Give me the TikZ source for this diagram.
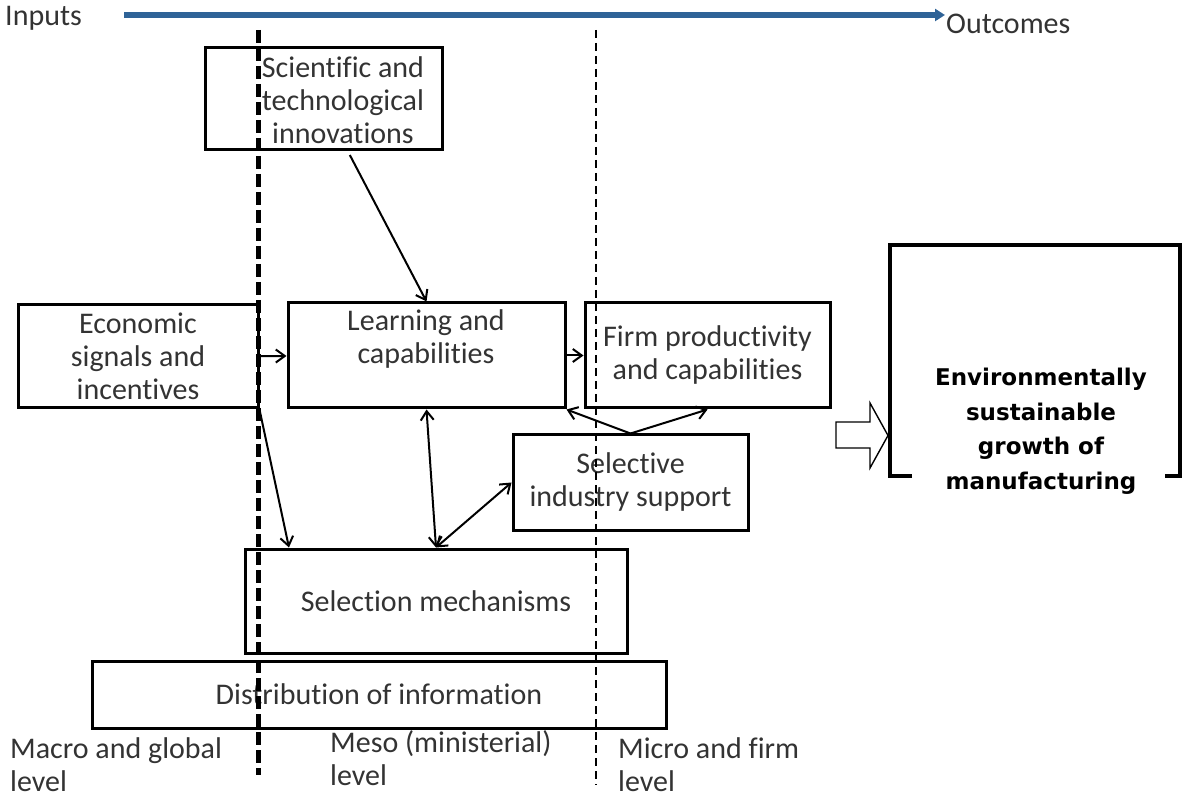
\documentclass[tikz,border=0pt]{standalone}
\usepackage{fontspec}
\setmainfont{Carlito}[Ligatures={NoCommon}]
\newfontfamily\headfont{DejaVu Sans}
\usetikzlibrary{arrows.meta, positioning}

\definecolor{axisblue}{RGB}{47,99,151}

\begin{document}
\begin{tikzpicture}[
    x=1pt, y=-1pt,
    box/.style={draw, line width=3pt, inner sep=0pt, align=center,
                font=\fontsize{30}{33}\selectfont, text=black!80},
    txt/.style={align=center, inner sep=0pt,
                font=\fontsize{30}{33}\selectfont, text=black!80},
    lvl/.style={align=left, anchor=north west, inner sep=0pt,
                font=\fontsize{30}{33}\selectfont, text=black!80},
    link/.style={line width=2pt, -{Straight Barb[length=9pt, width=13pt]}},
    twoway/.style={line width=2pt,
                   {Straight Barb[length=9pt, width=13pt]}-{Straight Barb[length=9pt, width=13pt]}},
    >=Stealth
  ]
  \useasboundingbox (0,0) rectangle (1192,799);

  % Axis
  \node[txt, anchor=base west] (inputs) at (5,26) {Inputs};
  \node[txt, anchor=base west] (outcomes) at (946,34) {Outcomes};
  \draw[axisblue, line width=5.5pt, -{Triangle[length=10pt, width=12pt]}]
    (inputs.east |- 0,15) ++(42,0) coordinate (axisstart) -- (945,15) coordinate (axisend);

  % Boxes
  \node[box, minimum width=237, minimum height=102] (sci) at (323.5,99) {};
  \node[txt] (scitext) at (343,100) {Scientific and\\technological\\innovations};
  \node[box, minimum width=240, minimum height=103] (econ) at (138,356.5)
    {Economic\\signals and\\incentives};
  \node[box, minimum width=277, minimum height=105] (learn) at (426.5,355.5) {};
  \node[txt] (learntext) at (426,339) {Learning and\\capabilities};
  \node[box, minimum width=245, minimum height=105] (firm) at (707.5,355.5)
    {Firm productivity\\and capabilities};
  \node[box, minimum width=235, minimum height=95] (sel) at (630.5,482.5)
    {Selective\\industry support};
  \node[box, minimum width=382, minimum height=104] (mech) at (436,601)
    {Selection mechanisms};
  \node[box, minimum width=574, minimum height=67] (dist) at (379,694.5)
    {Distribution of information};

  % Outcome
  \node[inner sep=0pt, align=center, font=\headfont\bfseries\fontsize{23}{34.5}\selectfont]
    (goal) at (1041,431) {Environmentally\\sustainable\\growth of\\manufacturing};
  \draw[line width=3.4pt] (912,476) -- (890,476) -- (890,245) -- (1180,245) -- (1180,476) -- (1165,476);
  \draw[line width=1.4pt, fill=white, line join=miter]
    (836,422) -- (870,422) -- (870,403) -- (888,435.5) -- (870,468) -- (870,448) -- (836,448) -- cycle;

  % Connectors
  \draw[link, shorten <=4pt] (sci.-65) -- (learn.north);
  \draw[link] (econ) -- (learn);
  \draw[link] (learn) -- (firm);
  \draw[link] (econ.south east) -- (mech.160);
  \draw[twoway] (mech.north) -- (learn.south);
  \draw[twoway] (mech.north) -- (sel.west);
  \draw[link] (sel.north) -- (learn.south east);
  \draw[link] (sel.north) -- (firm.south);

  % Level boundaries
  \coordinate (macrotop) at (258,30);
  \coordinate (macrobot) at (258,775);
  \coordinate (microtop) at (596,30);
  \coordinate (microbot) at (596,785);
  \draw[line width=5pt, dash pattern=on 13pt off 5pt] (macrotop) -- (macrobot);
  \draw[line width=2.2pt, dash pattern=on 8pt off 5pt] (microtop) -- (microbot);

  % Level labels
  \node[lvl] (macro) at (10,737) {Macro and global\\level};
  \node[lvl] (meso) at (330,730) {Meso (ministerial)\\level};
  \node[lvl] (micro) at (618,737) {Micro and firm\\level};
\end{tikzpicture}
\end{document}
